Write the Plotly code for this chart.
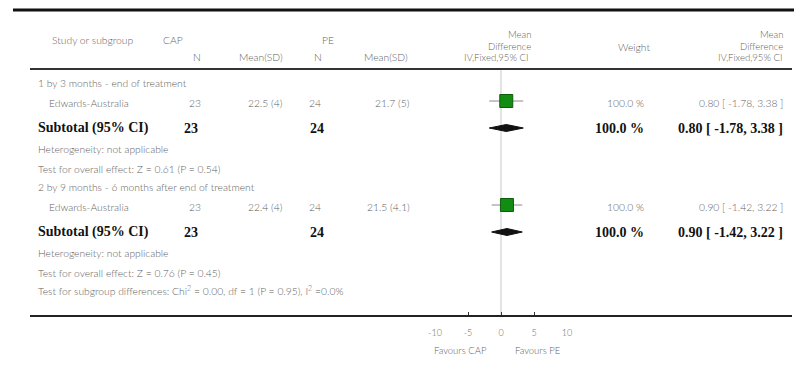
import plotly.graph_objects as go

# ---- data -------------------------------------------------------------
groups = ["1 by 3 months - end of treatment",
          "2 by 9 months - 6 months after end of treatment"]
studies = ["Edwards-Australia", "Edwards-Australia"]
cap_n = [23, 23]
cap_mean = [22.5, 22.4]
cap_sd = [4, 4]
pe_n = [24, 24]
pe_mean = [21.7, 21.5]
pe_sd = [5, 4.1]
weights = [100.0, 100.0]
md = [0.80, 0.90]
ci_lo = [-1.78, -1.42]
ci_hi = [3.38, 3.22]
z_vals = [0.61, 0.76]
p_vals = [0.54, 0.45]
sub_chi2, sub_df, sub_p, sub_i2 = 0.00, 1, 0.95, 0.0
tick_vals = [-10, -5, 0, 5, 10]

# ---- page geometry (pixels) -------------------------------------------
W, H = 794, 385
LIGHT = dict(family="Lato", size=10.3, color="#5f5f5f", weight=300)
HEAD = dict(LIGHT, size=9.6)
BOLD = dict(family="Liberation Serif", size=14, color="#111111", weight="bold")

# vertical positions of the first line of each subgroup block
block_top = [83, 187]


def px(x):
    return x / W


fig = go.Figure()
ann = []


def text(x, y, s, anchor="left", font=LIGHT):
    ann.append(dict(x=px(x), y=y, xref="paper", yref="y", text=s,
                    showarrow=False, xanchor=anchor, yanchor="middle",
                    borderpad=0, borderwidth=0, font=font))


def fmt_ci(m, lo, hi):
    return f"{m:.2f} [ {lo:.2f}, {hi:.2f} ]"


# header
text(52, 40, "Study or subgroup")
text(163, 40, "CAP")
text(322, 40, "PE")
text(197, 57, "N", "center")
text(283, 57, "Mean(SD)", "right")
text(318, 57, "N", "center")
text(408, 57, "Mean(SD)", "right")
text(531, 34.5, "Mean", "right", HEAD)
text(531, 46, "Difference", "right", HEAD)
text(529, 57.5, "IV,Fixed,95% CI", "right", HEAD)
text(634, 47, "Weight", "center")
text(783, 34.5, "Mean", "right", HEAD)
text(783, 46, "Difference", "right", HEAD)
text(783, 57.5, "IV,Fixed,95% CI", "right", HEAD)

study_y = []
sub_y = []
for i, g in enumerate(groups):
    y0 = block_top[i]
    ys = y0 + 20
    yt = y0 + 45
    study_y.append(ys - 2)
    sub_y.append(yt)
    text(38, y0, g)
    text(49, ys, studies[i])
    text(195, ys, str(cap_n[i]), "center")
    text(283, ys, f"{cap_mean[i]:g} ({cap_sd[i]:g})", "right")
    text(315, ys, str(pe_n[i]), "center")
    text(410, ys, f"{pe_mean[i]:g} ({pe_sd[i]:g})", "right")
    text(644, ys, f"{weights[i]:.1f} %", "right")
    text(783, ys, fmt_ci(md[i], ci_lo[i], ci_hi[i]), "right")
    # subtotal row
    text(38, yt, "Subtotal (95% CI)", font=BOLD)
    text(191, yt, str(cap_n[i]), "center", font=BOLD)
    text(317, yt, str(pe_n[i]), "center", font=BOLD)
    text(644, yt, f"{weights[i]:.1f} %", "right", font=BOLD)
    text(783, yt, fmt_ci(md[i], ci_lo[i], ci_hi[i]), "right", font=BOLD)
    text(38, y0 + 66, "Heterogeneity: not applicable")
    text(38, y0 + 86,
         f"Test for overall effect: Z = {z_vals[i]:.2f} (P = {p_vals[i]:.2f})")

text(38, 290,
     f"Test for subgroup differences: Chi<sup>2</sup> = {sub_chi2:.2f}, "
     f"df = {sub_df} (P = {sub_p:.2f}), I<sup>2</sup> ={sub_i2:.1f}%")

text(460, 350, "Favours CAP", "center", font=dict(LIGHT, size=9.5))
text(538, 350, "Favours PE", "center", font=dict(LIGHT, size=9.5))

# confidence interval whiskers and study squares
for i in range(len(md)):
    fig.add_trace(go.Scatter(x=[ci_lo[i], ci_hi[i]], y=[study_y[i], study_y[i]],
                             mode="lines", line=dict(color="#8a8a8a", width=1),
                             hoverinfo="skip", showlegend=False))
fig.add_trace(go.Scatter(x=md, y=study_y, mode="markers",
                         marker=dict(symbol="square", size=13, color="#138c13",
                                     line=dict(color="#0b5e0b", width=1)),
                         showlegend=False))

# pooled diamonds
half_h = 3.5
for i in range(len(md)):
    y = sub_y[i]
    fig.add_trace(go.Scatter(
        x=[ci_lo[i], md[i], ci_hi[i], md[i], ci_lo[i]],
        y=[y, y - half_h, y, y + half_h, y],
        mode="lines", fill="toself", fillcolor="#111111",
        line=dict(color="#111111", width=1), hoverinfo="skip",
        showlegend=False))

shapes = [
    # rules across the table
    dict(type="line", xref="paper", yref="y", x0=px(13), x1=1, y0=10, y1=10,
         line=dict(color="#111111", width=3)),
    dict(type="line", xref="paper", yref="y", x0=px(30), x1=px(792), y0=69, y1=69,
         line=dict(color="#333333", width=2)),
    dict(type="line", xref="paper", yref="y", x0=px(30), x1=px(792), y0=316, y1=316,
         line=dict(color="#222222", width=2)),
    # line of no effect
    dict(type="line", xref="x", yref="y", x0=0, x1=0, y0=70, y1=316,
         line=dict(color="#c8c8c8", width=1), layer="below"),
]

fig.update_layout(
    width=W, height=H, autosize=False, margin=dict(l=0, r=0, t=0, b=0, pad=0),
    paper_bgcolor="white", plot_bgcolor="white",
    annotations=ann, shapes=shapes, showlegend=False,
    xaxis=dict(range=[-10, 10], domain=[px(435), px(567)], anchor="free",
               position=1 - 316 / H, showgrid=False, zeroline=False,
               showline=False, ticks="inside", ticklen=4, tickwidth=1,
               tickcolor="#333333", tickvals=tick_vals,
               ticktext=[str(v) for v in tick_vals],
               tickfont=dict(family="Lato", size=9, color="#6a6a6a", weight=300),
               ticklabelstandoff=10, fixedrange=True, automargin=False),
    yaxis=dict(range=[H, 0], domain=[0, 1], visible=False, fixedrange=True),
)

fig.write_html("out.html")
